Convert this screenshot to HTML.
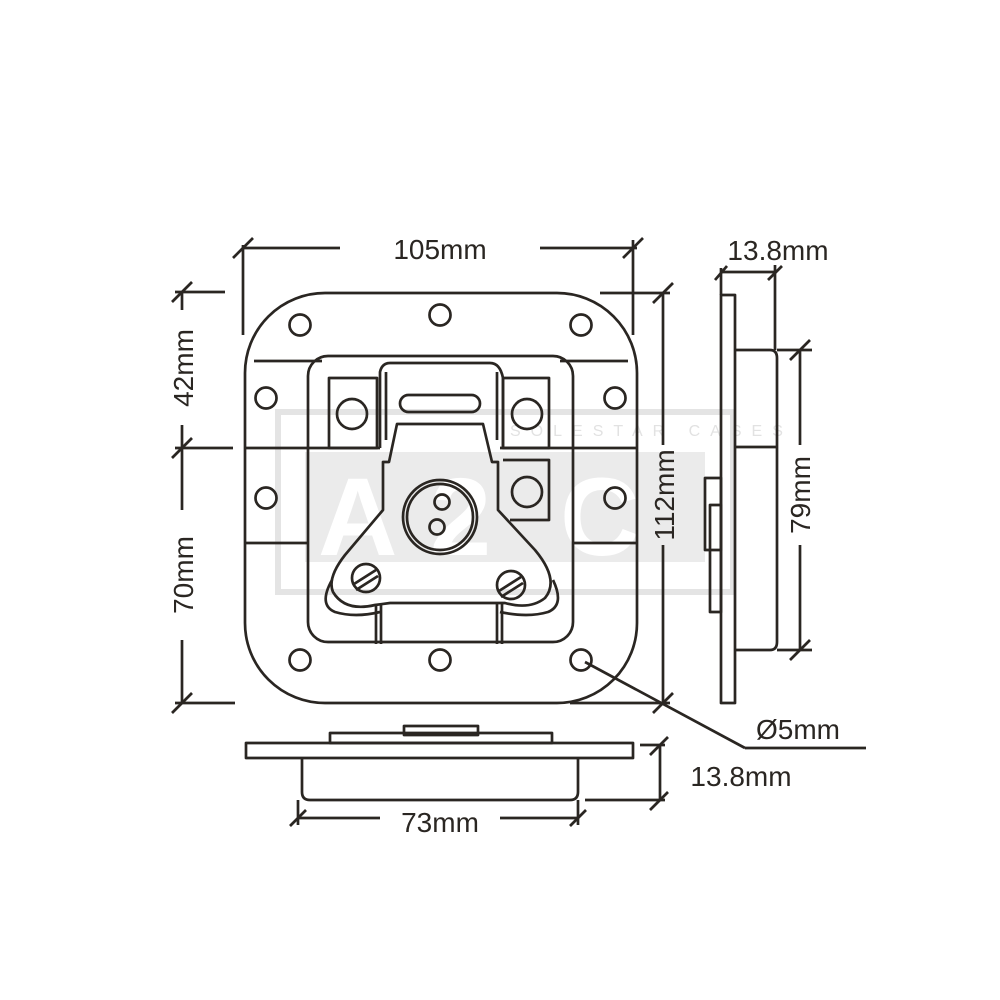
<!DOCTYPE html>
<html><head><meta charset="utf-8"><style>
html,body{margin:0;padding:0;background:#fff;}
svg{display:block}
text{font-family:"Liberation Sans",sans-serif;fill:#2a2622;}
</style></head><body>
<svg width="1000" height="1000" viewBox="0 0 1000 1000" xmlns="http://www.w3.org/2000/svg">
<!-- watermark -->
<g fill="none" stroke="#e4e4e4" stroke-width="6">
<rect x="278" y="412" width="455" height="180"/>
</g>
<g fill="#e6e6e6">
<rect x="305" y="452" width="400" height="110" opacity="0.8"/>
</g>
<g>
<text x="318" y="555" font-size="110" font-weight="bold" style="fill:#fff">A</text>
<text x="430" y="555" font-size="110" font-weight="bold" style="fill:#fff">2</text>
<text x="560" y="555" font-size="110" font-weight="bold" style="fill:#fff">C</text>
</g>
<text x="510" y="436" font-size="16" letter-spacing="10" style="fill:#e2e2e2">SOLESTAR CASES</text>

<g fill="none" stroke="#2a2622" stroke-width="2.7" stroke-linejoin="round">
<!-- front view -->
<rect x="245" y="293" width="392" height="410" rx="80"/>
<rect x="308" y="356" width="265" height="286" rx="20"/>
<line x1="254" y1="361" x2="322" y2="361"/><line x1="560" y1="361" x2="628" y2="361"/>
<line x1="245" y1="448" x2="308" y2="448"/><line x1="573" y1="448" x2="637" y2="448"/>
<line x1="245" y1="543" x2="308" y2="543"/><line x1="573" y1="543" x2="637" y2="543"/>
<circle cx="300" cy="325" r="10.5"/><circle cx="440" cy="315" r="10.5"/><circle cx="581" cy="325" r="10.5"/>
<circle cx="266" cy="398" r="10.5"/><circle cx="615" cy="398" r="10.5"/>
<circle cx="266" cy="498" r="10.5"/><circle cx="615" cy="498" r="10.5"/>
<circle cx="300" cy="660" r="10.5"/><circle cx="440" cy="660" r="10.5"/><circle cx="581" cy="660" r="10.5"/>
<line x1="308" y1="448" x2="380" y2="448"/><line x1="500" y1="448" x2="573" y2="448"/>
<rect x="329" y="378" width="48" height="70"/><circle cx="352" cy="414" r="15"/>
<rect x="503" y="378" width="46" height="70"/><circle cx="527" cy="414" r="15"/>
<path d="M503 460 H549 V520 H510"/><circle cx="527" cy="492" r="15"/>
<path d="M380 448 V372 Q382 363 390 363 H490 Q500 363 503 378 V448"/>
<line x1="386" y1="372" x2="386" y2="440"/><line x1="497" y1="372" x2="497" y2="440"/>
<rect x="400" y="395" width="80" height="17" rx="8.5"/>
<path d="M383 510 V462 H389 L397 424 H483 L492 462 H498 V510 L535 550 Q560 580 545 598 Q530 610 505 603 L490 603 H390 L375 605 Q345 612 333 592 Q327 578 345 555 Z"/>
<path d="M332 580 Q318 605 335 612 Q355 618 380 612"/>
<path d="M553 580 Q565 605 548 612 Q528 618 500 612"/>
<circle cx="440" cy="517" r="37"/><circle cx="440" cy="517" r="33"/>
<circle cx="442" cy="502" r="7.5"/><circle cx="437" cy="527" r="7.5"/>
<circle cx="366" cy="578" r="14"/><path d="M354 584 L376 570 M356 590 L378 576"/>
<circle cx="511" cy="585" r="14"/><path d="M499 591 L521 577 M501 597 L523 583"/>
<line x1="376" y1="604" x2="376" y2="644"/><line x1="381" y1="604" x2="381" y2="644"/>
<line x1="497" y1="604" x2="497" y2="644"/><line x1="502" y1="604" x2="502" y2="644"/>

<!-- side view -->
<rect x="721" y="295" width="14" height="408"/>
<path d="M735 350 H770 Q777 350 777 358 V642 Q777 650 770 650 H735"/>
<line x1="735" y1="447" x2="777" y2="447"/>
<rect x="705" y="478" width="16" height="72"/>
<rect x="710" y="505" width="11" height="107"/>

<!-- bottom view -->
<rect x="246" y="743" width="387" height="15"/>
<rect x="330" y="733" width="222" height="10"/>
<rect x="404" y="726" width="74" height="9"/>
<path d="M302 758 V792 Q302 800 310 800 H570 Q578 800 578 792 V758"/>

<!-- dimension lines -->
<line x1="243" y1="248" x2="340" y2="248"/><line x1="540" y1="248" x2="637" y2="248"/>
<line x1="243" y1="245" x2="243" y2="335"/><line x1="633" y1="240" x2="633" y2="335"/>
<line x1="233" y1="258" x2="253" y2="238"/><line x1="623" y1="258" x2="643" y2="238"/>
<line x1="182" y1="292" x2="182" y2="310"/><line x1="182" y1="425" x2="182" y2="448"/>
<line x1="182" y1="448" x2="182" y2="510"/><line x1="182" y1="640" x2="182" y2="703"/>
<line x1="175" y1="292" x2="225" y2="292"/><line x1="175" y1="448" x2="233" y2="448"/><line x1="175" y1="703" x2="235" y2="703"/>
<line x1="172" y1="302" x2="192" y2="282"/><line x1="172" y1="458" x2="192" y2="438"/><line x1="172" y1="713" x2="192" y2="693"/>
<line x1="663" y1="293" x2="663" y2="445"/><line x1="663" y1="545" x2="663" y2="703"/>
<line x1="600" y1="293" x2="670" y2="293"/><line x1="570" y1="703" x2="670" y2="703"/>
<line x1="653" y1="303" x2="673" y2="283"/><line x1="653" y1="713" x2="673" y2="693"/>
<line x1="721" y1="272" x2="775" y2="272"/><line x1="775" y1="265" x2="775" y2="350"/>
<line x1="721" y1="268" x2="721" y2="295"/>
<line x1="715" y1="280" x2="727" y2="266"/><line x1="768" y1="280" x2="782" y2="266"/>
<line x1="777" y1="350" x2="812" y2="350"/><line x1="777" y1="650" x2="812" y2="650"/>
<line x1="800" y1="350" x2="800" y2="445"/><line x1="800" y1="545" x2="800" y2="650"/>
<line x1="790" y1="360" x2="810" y2="340"/><line x1="790" y1="660" x2="810" y2="640"/>
<line x1="585" y1="662" x2="745" y2="748"/><line x1="745" y1="748" x2="866" y2="748"/>
<line x1="660" y1="745" x2="660" y2="800"/><line x1="640" y1="745" x2="665" y2="745"/><line x1="585" y1="800" x2="665" y2="800"/>
<line x1="650" y1="755" x2="668" y2="737"/><line x1="650" y1="810" x2="668" y2="792"/>
<line x1="298" y1="818" x2="380" y2="818"/><line x1="500" y1="818" x2="578" y2="818"/>
<line x1="298" y1="800" x2="298" y2="825"/><line x1="578" y1="800" x2="578" y2="825"/>
<line x1="290" y1="826" x2="306" y2="810"/><line x1="570" y1="826" x2="586" y2="810"/>
</g>

<g font-size="28">
<text x="440" y="259" text-anchor="middle">105mm</text>
<text x="778" y="260" text-anchor="middle">13.8mm</text>
<text x="798" y="739" text-anchor="middle">Ø5mm</text>
<text x="741" y="786" text-anchor="middle">13.8mm</text>
<text x="440" y="832" text-anchor="middle">73mm</text>
<text transform="translate(193,368) rotate(-90)" text-anchor="middle">42mm</text>
<text transform="translate(193,575) rotate(-90)" text-anchor="middle">70mm</text>
<text transform="translate(674,495) rotate(-90)" text-anchor="middle">112mm</text>
<text transform="translate(810,495) rotate(-90)" text-anchor="middle">79mm</text>
</g>
</svg>
</body></html>
